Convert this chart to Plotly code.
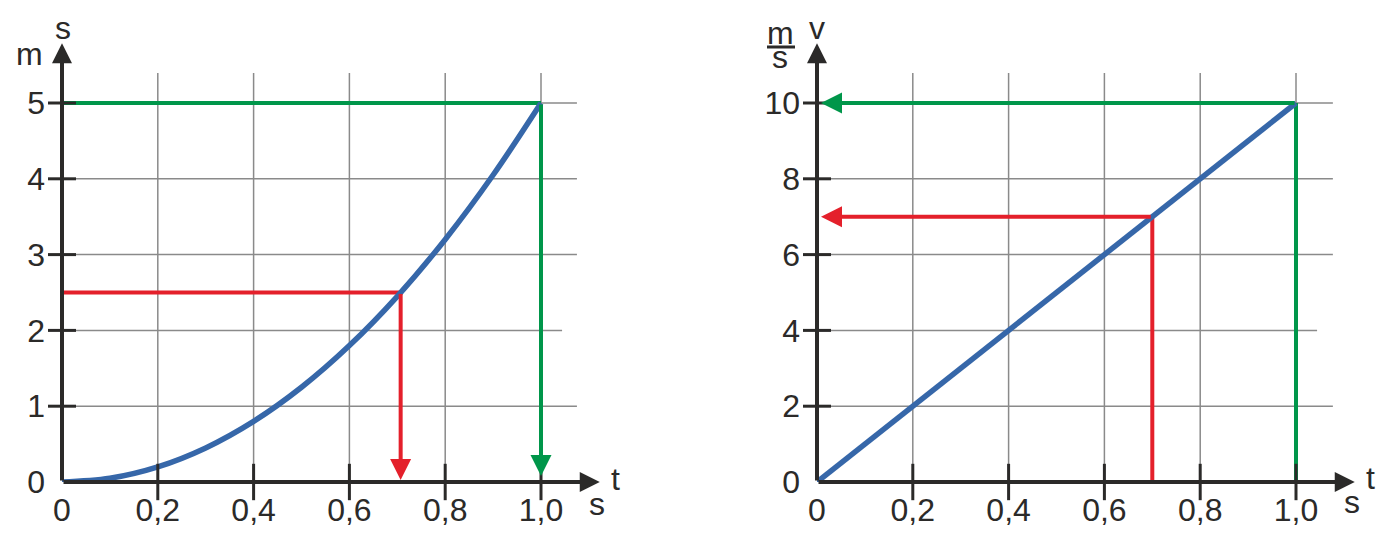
import plotly.graph_objects as go

# ---------------- data ----------------
t_tickvals = [0, 0.2, 0.4, 0.6, 0.8, 1.0]
t_ticktext = ["0", "0,2", "0,4", "0,6", "0,8", "1,0"]
s_tickvals = [0, 1, 2, 3, 4, 5]
s_ticktext = ["0", "1", "2", "3", "4", "5"]
v_tickvals = [0, 2, 4, 6, 8, 10]
v_ticktext = ["0", "2", "4", "6", "8", "10"]

# s(t) curve
t_curve = [0.0, 0.1, 0.2, 0.3, 0.4, 0.5, 0.6, 0.7, 0.8, 0.9, 1.0]
s_curve = [0.0, 0.05, 0.2, 0.45, 0.8, 1.25, 1.8, 2.45, 3.2, 4.05, 5.0]
# v(t) line
t_line = [0.0, 1.0]
v_line = [0.0, 10.0]

# read-off markers
red_t_left, red_s = 0.707, 2.5
green_t_left, green_s = 1.0, 5.0
red_t_right, red_v = 0.7, 7.0
green_t_right, green_v = 1.0, 10.0

# ---------------- layout constants ----------------
OFF = 8                      # page body margin
W, H = 1399 - 2 * OFF, 535 - 2 * OFF
PX_X = 479.0          # px per unit t
PX_S = 75.8           # px per unit s
PX_V = 37.9           # px per unit v
# page pixel positions
X0_L, X0_R, Y0 = 62, 817, 482
TIP_X, TIP_Y = 600, 43


def fx(px):
    return (px - OFF) / W


def fy(py):
    return 1 - (py - OFF) / H


t_max = (TIP_X - X0_L) / PX_X
s_max = (Y0 - TIP_Y) / PX_S
v_max = (Y0 - TIP_Y) / PX_V

grid_top_s = (Y0 - 73) / PX_S
grid_top_v = (Y0 - 73) / PX_V
hgrid_end_l = {1: 1.075, 2: 1.044, 3: 1.075, 4: 1.075, 5: 1.075}
hgrid_end_r = {2: 1.077, 4: 1.044, 6: 1.077, 8: 1.077, 10: 1.077}

AX = "#2b2a29"
GRID = "#8a8a8a"
BLUE = "#3667a9"
RED = "#e4202b"
GREEN = "#00964a"
FONT = "Liberation Sans, Arial, sans-serif"
FS = 32

fig = go.Figure()


def grid_trace(xa, ya, vert_vals, vert_top, horiz_end):
    xs, ys = [], []
    for v in vert_vals:
        if v == 0:
            continue
        xs += [v, v, None]
        ys += [0, vert_top, None]
    for hv, end in horiz_end.items():
        xs += [0, end, None]
        ys += [hv, hv, None]
    return go.Scatter(x=xs, y=ys, mode="lines", xaxis=xa, yaxis=ya,
                      line=dict(color=GRID, width=1.5), hoverinfo="skip",
                      showlegend=False)


def tick_traces(xa, ya, xvals, yvals):
    xv = [v for v in xvals if v != 0]
    yv = [v for v in yvals if v != 0]
    return [
        go.Scatter(x=xv, y=[0] * len(xv), mode="markers", xaxis=xa, yaxis=ya,
                   marker=dict(symbol="line-ns", size=26, color=AX,
                               line=dict(color=AX, width=3)),
                   cliponaxis=False, hoverinfo="skip", showlegend=False),
        go.Scatter(x=[0] * len(yv), y=yv, mode="markers", xaxis=xa, yaxis=ya,
                   marker=dict(symbol="line-ew", size=20, color=AX,
                               line=dict(color=AX, width=3)),
                   cliponaxis=False, hoverinfo="skip", showlegend=False),
    ]


# grids
fig.add_trace(grid_trace("x", "y", t_tickvals, grid_top_s, hgrid_end_l))
fig.add_trace(grid_trace("x2", "y2", t_tickvals, grid_top_v, hgrid_end_r))

# left plot: red / green guide lines (horizontal part)
fig.add_trace(go.Scatter(x=[0, red_t_left], y=[red_s, red_s], mode="lines",
                         line=dict(color=RED, width=4), showlegend=False,
                         hoverinfo="skip"))
fig.add_trace(go.Scatter(x=[0, green_t_left], y=[green_s, green_s], mode="lines",
                         line=dict(color=GREEN, width=4), showlegend=False,
                         hoverinfo="skip"))
# right plot: vertical parts
fig.add_trace(go.Scatter(x=[red_t_right, red_t_right], y=[0, red_v], mode="lines",
                         xaxis="x2", yaxis="y2",
                         line=dict(color=RED, width=4), showlegend=False,
                         hoverinfo="skip"))
fig.add_trace(go.Scatter(x=[green_t_right, green_t_right], y=[0, green_v], mode="lines",
                         xaxis="x2", yaxis="y2",
                         line=dict(color=GREEN, width=4), showlegend=False,
                         hoverinfo="skip"))

# curves
fig.add_trace(go.Scatter(x=t_curve, y=s_curve, mode="lines",
                         line=dict(color=BLUE, width=5.5, shape="spline"),
                         showlegend=False, hoverinfo="skip"))
fig.add_trace(go.Scatter(x=t_line, y=v_line, mode="lines", xaxis="x2", yaxis="y2",
                         line=dict(color=BLUE, width=5.5),
                         showlegend=False, hoverinfo="skip"))

# ticks on the axes
for tr in tick_traces("x", "y", t_tickvals, s_tickvals):
    fig.add_trace(tr)
for tr in tick_traces("x2", "y2", t_tickvals, v_tickvals):
    fig.add_trace(tr)

annotations = []


def arrow(xref, yref, x, y, ax, ay, color, width, size):
    annotations.append(dict(xref=xref, yref=yref, axref=xref, ayref=yref,
                            x=x, y=y, ax=ax, ay=ay, text="", showarrow=True,
                            arrowhead=2, arrowwidth=width, arrowsize=size,
                            arrowcolor=color, standoff=0))


# axis arrows
arrow("x", "y", t_max * 0.9995, 0, 0, 0, AX, 4, 1.0)
arrow("x", "y", 0, s_max * 0.9995, 0, 0, AX, 4, 1.0)
arrow("x2", "y2", t_max * 0.9995, 0, 0, 0, AX, 4, 1.0)
arrow("x2", "y2", 0, v_max * 0.9995, 0, 0, AX, 4, 1.0)

# read-off arrows
arrow("x", "y", red_t_left, 2 / PX_S, red_t_left, red_s, RED, 4, 1.05)
arrow("x", "y", green_t_left, 6 / PX_S, green_t_left, green_s, GREEN, 4, 1.05)
arrow("x2", "y2", 4 / PX_X, red_v, red_t_right, red_v, RED, 4, 1.05)
arrow("x2", "y2", 4 / PX_X, green_v, green_t_right, green_v, GREEN, 4, 1.05)


def label(text, px, py, size=FS, top=False):
    annotations.append(dict(xref="paper", yref="paper", x=fx(px),
                            y=1.0 if top else fy(py),
                            xanchor="center", yanchor="top" if top else "middle",
                            text=text, showarrow=False,
                            font=dict(family=FONT, size=size, color=AX)))


label("s", 63, 0, top=True)
label("m", 29, 54)
label("t", 615, 479)
label("s", 597, 504)
label("v", 817, 0, top=True)
label("m", 780, 33)
label("s", 780, 57)
label("t", 1370, 478)
label("s", 1352, 502)

shapes = [dict(type="line", xref="paper", yref="paper",
               x0=fx(767), x1=fx(795), y0=fy(47), y1=fy(47),
               line=dict(color=AX, width=3))]

ydom = [fy(Y0), fy(TIP_Y)]
xaxis_common = dict(tickvals=t_tickvals, ticktext=t_ticktext, range=[0, t_max],
                    showgrid=False, zeroline=False, showline=False, ticks="",
                    automargin=False, ticklabelstandoff=6,
                    tickfont=dict(family=FONT, size=FS, color=AX), fixedrange=True)
yaxis_common = dict(showgrid=False, zeroline=False, showline=False, ticks="",
                    automargin=False, ticklabelstandoff=16,
                    tickfont=dict(family=FONT, size=FS, color=AX), fixedrange=True)
fig.update_layout(
    width=W, height=H,
    margin=dict(l=0, r=0, t=0, b=0, autoexpand=False),
    paper_bgcolor="white", plot_bgcolor="white",
    xaxis=dict(domain=[fx(X0_L), fx(TIP_X)], anchor="y", **xaxis_common),
    xaxis2=dict(domain=[fx(X0_R), fx(X0_R + TIP_X - X0_L)], anchor="y2", **xaxis_common),
    yaxis=dict(domain=ydom, anchor="x", range=[0, s_max], tickvals=s_tickvals,
               ticktext=s_ticktext, **yaxis_common),
    yaxis2=dict(domain=ydom, anchor="x2", range=[0, v_max], tickvals=v_tickvals,
                ticktext=v_ticktext, **yaxis_common),
    annotations=annotations,
    shapes=shapes,
    showlegend=False,
)

fig.write_html("out.html")
